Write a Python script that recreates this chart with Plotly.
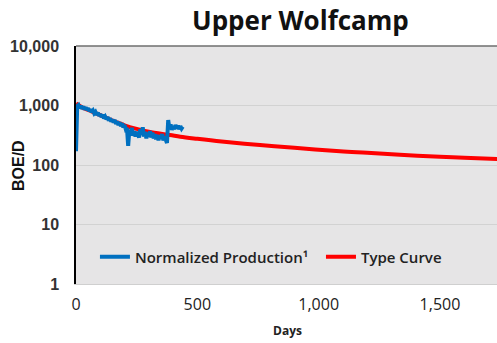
import plotly.graph_objects as go

# Normalized production (BOE/D) sampled every 5 days
prod_days = list(range(0, 445, 5))
prod_boe = [170, 980, 1020, 900, 990, 880, 960, 860, 930, 840,
            900, 800, 870, 770, 820, 740, 780, 700, 760, 670,
            720, 640, 700, 610, 650, 590, 640, 560, 610, 540,
            580, 520, 570, 490, 540, 470, 520, 450, 500, 430,
            470, 400, 420, 210, 390, 330, 420, 310, 370, 300,
            360, 320, 290, 400, 320, 430, 300, 360, 280, 350,
            300, 370, 290, 350, 280, 330, 270, 320, 260, 310,
            280, 330, 260, 300, 245, 235, 570, 410, 480, 390,
            450, 400, 470, 410, 460, 400, 450, 410, 440]

# Type curve (BOE/D)
tc_days = [0, 25, 50, 100, 150, 200, 250, 300, 387, 430, 500, 600, 758,
           900, 1088, 1200, 1335, 1500, 1600, 1750]
tc_boe = [1080, 930, 840, 690, 560, 465, 405, 362, 319, 298, 275, 248, 217,
          195, 170, 160, 148, 138, 132, 125]

fig = go.Figure()
fig.add_trace(go.Scatter(x=tc_days, y=tc_boe, mode="lines", name="Type Curve",
                         line=dict(color="#ff0000", width=4, shape="spline"),
                         legendrank=2))
fig.add_trace(go.Scatter(x=prod_days, y=prod_boe, mode="lines",
                         name="Normalized Production¹  ",
                         line=dict(color="#0070c0", width=4),
                         legendrank=1))

fig.update_layout(
    width=497, height=343,
    margin=dict(l=76, r=0, t=46, b=59),
    paper_bgcolor="white",
    plot_bgcolor="#e6e5e6",
    showlegend=True,
    legend=dict(orientation="h", x=0.045, xanchor="left", y=0.113, yanchor="middle",
                bgcolor="rgba(0,0,0,0)",
                font=dict(family="Open Sans", size=15, color="#222222", weight=600),
                tracegroupgap=0),
    xaxis=dict(range=[0, 1735], tickvals=[0, 500, 1000, 1500],
               ticktext=["0", "500", "1,000", "1,500"],
               showgrid=False, zeroline=False,
               showline=True, linecolor="#cfcfcf", linewidth=1,
               ticks="", ticklabelstandoff=6,
               tickfont=dict(family="Open Sans", size=16, color="#222222")),
    yaxis=dict(type="log", range=[0, 4], tickvals=[1, 10, 100, 1000, 10000],
               ticktext=["1", "10", "100", "1,000", "10,000"],
               showgrid=True, gridcolor="#d2d2d2", gridwidth=1,
               zeroline=False, showline=True, linecolor="#000000", linewidth=1.5,
               ticks="", ticklabelstandoff=12,
               tickfont=dict(family="Arial", size=16, color="#333333", weight="bold")),
)

# Chart title and axis titles placed as free annotations
fig.add_annotation(text="<b>Upper Wolfcamp</b>", xref="paper", yref="paper",
                   x=(300 - 76) / 421, y=1 + 26 / 238, xanchor="center", yanchor="middle",
                   showarrow=False, font=dict(family="Open Sans", size=26, color="#111111"))
fig.add_annotation(text="<b>BOE/D</b>", xref="paper", yref="paper",
                   x=-(76 - 18) / 421, y=(284 - 166) / 238, xanchor="center", yanchor="middle",
                   textangle=-90, showarrow=False,
                   font=dict(family="Arial", size=16, color="#111111"))
fig.add_annotation(text="<b>Days</b>", xref="paper", yref="paper",
                   x=(287 - 76) / 421, y=-(330 - 284) / 238, xanchor="center", yanchor="middle",
                   showarrow=False, font=dict(family="Open Sans", size=12, color="#222222"))
# dark border along the top of the plotting area
fig.add_shape(type="line", xref="paper", yref="paper", x0=0, x1=1, y0=1, y1=1,
              line=dict(color="#6e6e6e", width=1.5))

fig.write_html("out.html")
